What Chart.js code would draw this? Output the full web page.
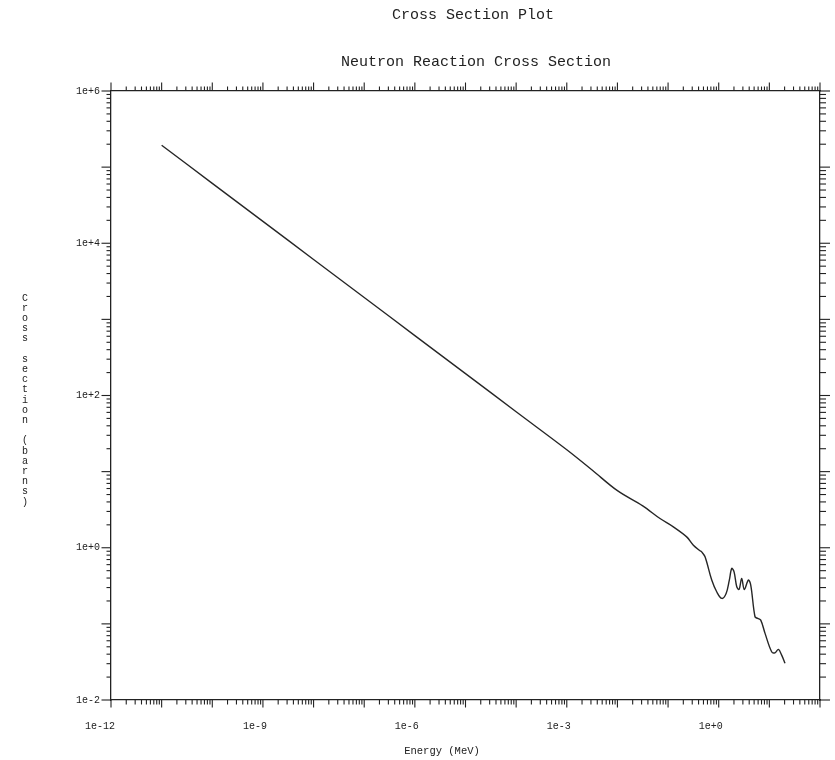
<!DOCTYPE html>
<html>
<head>
<meta charset="utf-8">
<title>Cross Section Plot</title>
<script src="https://cdn.jsdelivr.net/npm/chart.js@4/dist/chart.umd.min.js"></script>
<style>
  html, body { margin: 0; padding: 0; background: #fff; }
  canvas { display: block; }
</style>
</head>
<body>
<canvas id="xs" width="835" height="760"></canvas>
<script>
// Neutron energy grid (MeV) and the matching reaction cross section (barns)
const energyMeV = [
  1e-11, 1e-10, 1e-9, 1e-8, 1e-7, 1e-6, 1e-5, 1e-4, 1e-3, 3.16e-3,
  1e-2, 0.0316, 0.0693, 0.127, 0.233, 0.316, 0.427, 0.461, 0.537, 0.728,
  0.912, 1.15, 1.40, 1.62, 1.81, 2.01, 2.27, 2.52, 2.84, 3.20,
  3.85, 4.29, 5.21, 5.89, 6.76, 8.22, 11.1, 12.9, 15.1, 17.5, 20.4
];
const crossSectionBarns = [
  1.94e5, 6.12e4, 1.94e4, 6.12e3, 1.94e3, 612, 194, 61.2, 19.4, 10.5,
  5.62, 3.55, 2.42, 1.88, 1.39, 1.08, 0.912, 0.883, 0.76, 0.376,
  0.264, 0.216, 0.251, 0.376, 0.535, 0.483, 0.307, 0.283, 0.395, 0.283,
  0.376, 0.324, 0.124, 0.118, 0.112, 0.075, 0.043, 0.0417, 0.0462, 0.0389, 0.0303
];

// Axis ranges and labelled ticks
const xRange = [1e-12, 1e2];
const yRange = [1e-2, 1e6];
const xTickValues = [1e-12, 1e-9, 1e-6, 1e-3, 1];
const xTickLabels = ['1e-12', '1e-9', '1e-6', '1e-3', '1e+0'];
const yTickValues = [1e6, 1e4, 1e2, 1, 1e-2];
const yTickLabels = ['1e+6', '1e+4', '1e+2', '1e+0', '1e-2'];

// Text
const chartTitle = 'Cross Section Plot';
const chartSubtitle = 'Neutron Reaction Cross Section';
const xAxisTitle = 'Energy (MeV)';
const yAxisTitle = 'Cross section (barns)';

const MONO = '"Liberation Mono", "DejaVu Sans Mono", monospace';
const INK = '#222';

const points = energyMeV.map((e, i) => ({ x: e, y: crossSectionBarns[i] }));

// Log-decade tick marks (long at each power of ten, short at 2..9) on all four sides
const decadeTicks = {
  id: 'decadeTicks',
  afterDraw(chart) {
    const ctx = chart.ctx;
    const { left, right, top, bottom } = chart.chartArea;
    ctx.save();
    ctx.strokeStyle = INK;
    ctx.lineWidth = 1.1;
    const each = (scale, fn) => {
      const lo = Math.floor(Math.log10(scale.min));
      const hi = Math.ceil(Math.log10(scale.max));
      for (let e = lo; e <= hi; e++) {
        for (let m = 1; m <= 9; m++) {
          const v = m * Math.pow(10, e);
          if (v < scale.min * 0.999 || v > scale.max * 1.001) continue;
          fn(scale.getPixelForValue(v), m === 1);
        }
      }
    };
    const seg = (x1, y1, x2, y2) => {
      ctx.beginPath(); ctx.moveTo(x1, y1); ctx.lineTo(x2, y2); ctx.stroke();
    };
    each(chart.scales.x, (p, major) => seg(p, bottom, p, bottom + (major ? 7.5 : 4.5)));
    each(chart.scales.xTop, (p, major) => seg(p, top, p, top - (major ? 8.5 : 4.5)));
    each(chart.scales.y, (p, major) => seg(left, p, left - (major ? 9.5 : 4.5), p));
    each(chart.scales.yRight, (p, major) => seg(right, p, right + (major ? 10 : 6), p));
    ctx.restore();
  }
};

// Titles and axis captions; the y caption is written as upright stacked letters
const captions = {
  id: 'captions',
  afterDraw(chart) {
    const ctx = chart.ctx;
    ctx.save();
    ctx.fillStyle = INK;
    ctx.textAlign = 'center';
    ctx.textBaseline = 'middle';
    ctx.font = '15px ' + MONO;
    ctx.fillText(chartTitle, 473, 15);
    ctx.fillText(chartSubtitle, 476, 62);
    ctx.font = '10.5px ' + MONO;
    ctx.fillText(xAxisTitle, 442, 751);
    ctx.font = '10px ' + MONO;
    const chars = Array.from(yAxisTitle);
    chars.forEach((ch, i) => ctx.fillText(ch, 25, 298 + i * 10.2));
    ctx.restore();
  }
};

const hiddenGrid = { display: true, drawOnChartArea: false, drawTicks: false };
const frame = { display: true, color: INK, width: 1.3 };

new Chart(document.getElementById('xs'), {
  type: 'line',
  data: {
    datasets: [{
      data: points,
      borderColor: '#262626',
      borderWidth: 1.4,
      pointRadius: 0,
      tension: 0.35,
      fill: false
    }]
  },
  options: {
    responsive: false,
    animation: false,
    devicePixelRatio: 1,
    layout: { padding: 0 },
    plugins: { legend: { display: false }, tooltip: { enabled: false }, title: { display: false } },
    scales: {
      x: {
        type: 'logarithmic', position: 'bottom',
        min: xRange[0], max: xRange[1],
        grid: hiddenGrid, border: frame,
        afterBuildTicks: s => { s.ticks = xTickValues.map(v => ({ value: v })); },
        afterFit: s => { s.height = 60; },
        ticks: {
          autoSkip: false, maxRotation: 0, align: 'end', labelOffset: 4, padding: 20,
          color: INK, font: { family: MONO, size: 10 },
          callback: (v, i) => xTickLabels[i]
        }
      },
      xTop: {
        type: 'logarithmic', position: 'top',
        min: xRange[0], max: xRange[1],
        grid: hiddenGrid, border: frame,
        ticks: { display: false },
        afterFit: s => { s.height = 91; }
      },
      y: {
        type: 'logarithmic', position: 'left',
        min: yRange[0], max: yRange[1],
        grid: hiddenGrid, border: frame,
        afterBuildTicks: s => { s.ticks = yTickValues.map(v => ({ value: v })); },
        afterFit: s => { s.width = 111; },
        ticks: {
          autoSkip: false, padding: 11,
          color: INK, font: { family: MONO, size: 10 },
          callback: (v, i) => yTickLabels[i]
        }
      },
      yRight: {
        type: 'logarithmic', position: 'right',
        min: yRange[0], max: yRange[1],
        grid: hiddenGrid, border: frame,
        ticks: { display: false },
        afterFit: s => { s.width = 15; }
      }
    }
  },
  plugins: [decadeTicks, captions]
});
</script>
</body>
</html>
